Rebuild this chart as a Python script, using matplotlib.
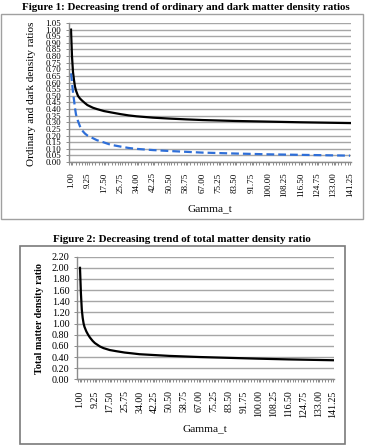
import matplotlib
matplotlib.use("Agg")
import matplotlib.pyplot as plt
from matplotlib.patches import Rectangle
from matplotlib.ticker import MultipleLocator

# ---- data ----
gamma_t = [1.0, 1.5, 2.0, 2.5, 3.0, 3.5, 4.5, 5.5, 6.5, 8.0, 9.25, 12.0, 14.0, 17.5,
           21.0, 25.75, 30.0, 34.0, 42.25, 50.5, 58.75, 67.0, 83.5, 100.0, 116.5,
           133.0, 141.25]
ordinary_ratio = [1.00, 0.80, 0.68, 0.62, 0.57, 0.54, 0.50, 0.48, 0.465, 0.445, 0.43,
                  0.41, 0.40, 0.385, 0.375, 0.362, 0.352, 0.345, 0.335, 0.328, 0.322,
                  0.317, 0.310, 0.305, 0.300, 0.296, 0.294]
dark_ratio = [0.67, 0.60, 0.53, 0.47, 0.41, 0.36, 0.31, 0.27, 0.24, 0.215, 0.20,
              0.18, 0.165, 0.148, 0.130, 0.117, 0.106, 0.099, 0.090, 0.083, 0.077,
              0.071, 0.064, 0.058, 0.054, 0.050, 0.048]
total_ratio = [2.00, 1.55, 1.25, 1.10, 1.00, 0.94, 0.86, 0.80, 0.75, 0.69, 0.65,
               0.59, 0.56, 0.525, 0.505, 0.48, 0.465, 0.45, 0.435, 0.42, 0.41,
               0.40, 0.385, 0.37, 0.357, 0.347, 0.342]
xtick_values = [1.00, 9.25, 17.50, 25.75, 34.00, 42.25, 50.50, 58.75, 67.00, 75.25,
                83.50, 91.75, 100.00, 108.25, 116.50, 124.75, 133.00, 141.25]
yticks_fig1 = [round(0.05 * i, 2) for i in range(22)]
yticks_fig2 = [round(0.2 * i, 2) for i in range(12)]

W, H = 370, 445
fig = plt.figure(figsize=(W / 100, H / 100), dpi=100)
plt.rcParams['font.family'] = ['Liberation Serif', 'DejaVu Serif']

def fx(px):
    return px / W

def fy(py):
    return 1 - py / H

def axes_px(l, t, r, b):
    return fig.add_axes([fx(l), fy(b), fx(r) - fx(l), (b - t) / H])

grid_col = '#a6a6a6'
axis_col = '#8c8c8c'

# outer boxes
fig.patches.append(Rectangle((fx(1), fy(219)), fx(363) - fx(1), (219 - 14) / H,
                             transform=fig.transFigure, fill=False,
                             edgecolor='#a0a0a0', linewidth=1.0))
fig.patches.append(Rectangle((fx(20), fy(444)), fx(345) - fx(20), (444 - 246) / H,
                             transform=fig.transFigure, fill=False,
                             edgecolor='#7a7a7a', linewidth=1.2))

# titles
fig.text(fx(186), fy(8), 'Figure 1: Decreasing trend of ordinary and dark matter density ratios',
         ha='center', va='center', fontsize=7.9, fontweight='bold')
fig.text(fx(182), fy(240), 'Figure 2: Decreasing trend of total matter density ratio',
         ha='center', va='center', fontsize=7.9, fontweight='bold')

def style(ax, yticks, ylim, xlim, ylab_size, xlab_size, xpad):
    ax.set_xlim(*xlim)
    ax.set_ylim(*ylim)
    ax.set_yticks(yticks)
    ax.set_yticklabels([f'{v:.2f}' for v in yticks])
    ax.set_xticks(xtick_values)
    ax.set_xticklabels([f'{v:.2f}' for v in xtick_values], rotation=90)
    ax.xaxis.set_minor_locator(MultipleLocator(1.65))
    ax.grid(axis='y', color=grid_col, linewidth=1.0)
    ax.set_axisbelow(True)
    for s in ['top', 'right']:
        ax.spines[s].set_visible(False)
    for s in ['left', 'bottom']:
        ax.spines[s].set_color(axis_col)
        ax.spines[s].set_linewidth(1.0)
    ax.tick_params(axis='x', which='both', direction='out', length=2.5, width=0.7,
                   color=axis_col, labelsize=xlab_size, pad=xpad)
    ax.tick_params(axis='y', which='both', direction='out', length=2.5, width=0.7,
                   color=axis_col, labelsize=ylab_size, pad=3)

# ---- Figure 1 ----
ax1 = axes_px(69, 23, 351, 162)
ax1.plot(gamma_t, ordinary_ratio, color='black', linewidth=1.6)
ax1.plot(gamma_t, dark_ratio, color='#2f6fd8', linewidth=1.6, linestyle=(0, (3.5, 1.8)))
style(ax1, yticks_fig1, (0, 1.05), (0.0, 141.75), 6.4, 6.5, 5)
fig.text(fx(32), fy(94), 'Ordinary and dark density ratios', rotation=90,
         ha='center', va='center', fontsize=8)
fig.text(fx(210), fy(209), 'Gamma_t', ha='center', va='center', fontsize=8.2)

# ---- Figure 2 ----
ax2 = axes_px(77, 256.7, 334, 379.3)
ax2.plot(gamma_t, total_ratio, color='black', linewidth=1.6)
style(ax2, yticks_fig2, (0, 2.2), (-0.66, 141.8), 7.3, 7.1, 5.5)
fig.text(fx(39), fy(318), 'Total matter density ratio', rotation=90,
         ha='center', va='center', fontsize=7.3, fontweight='bold')
fig.text(fx(205), fy(429), 'Gamma_t', ha='center', va='center', fontsize=8.2)

fig.savefig('out.png', dpi=100)
